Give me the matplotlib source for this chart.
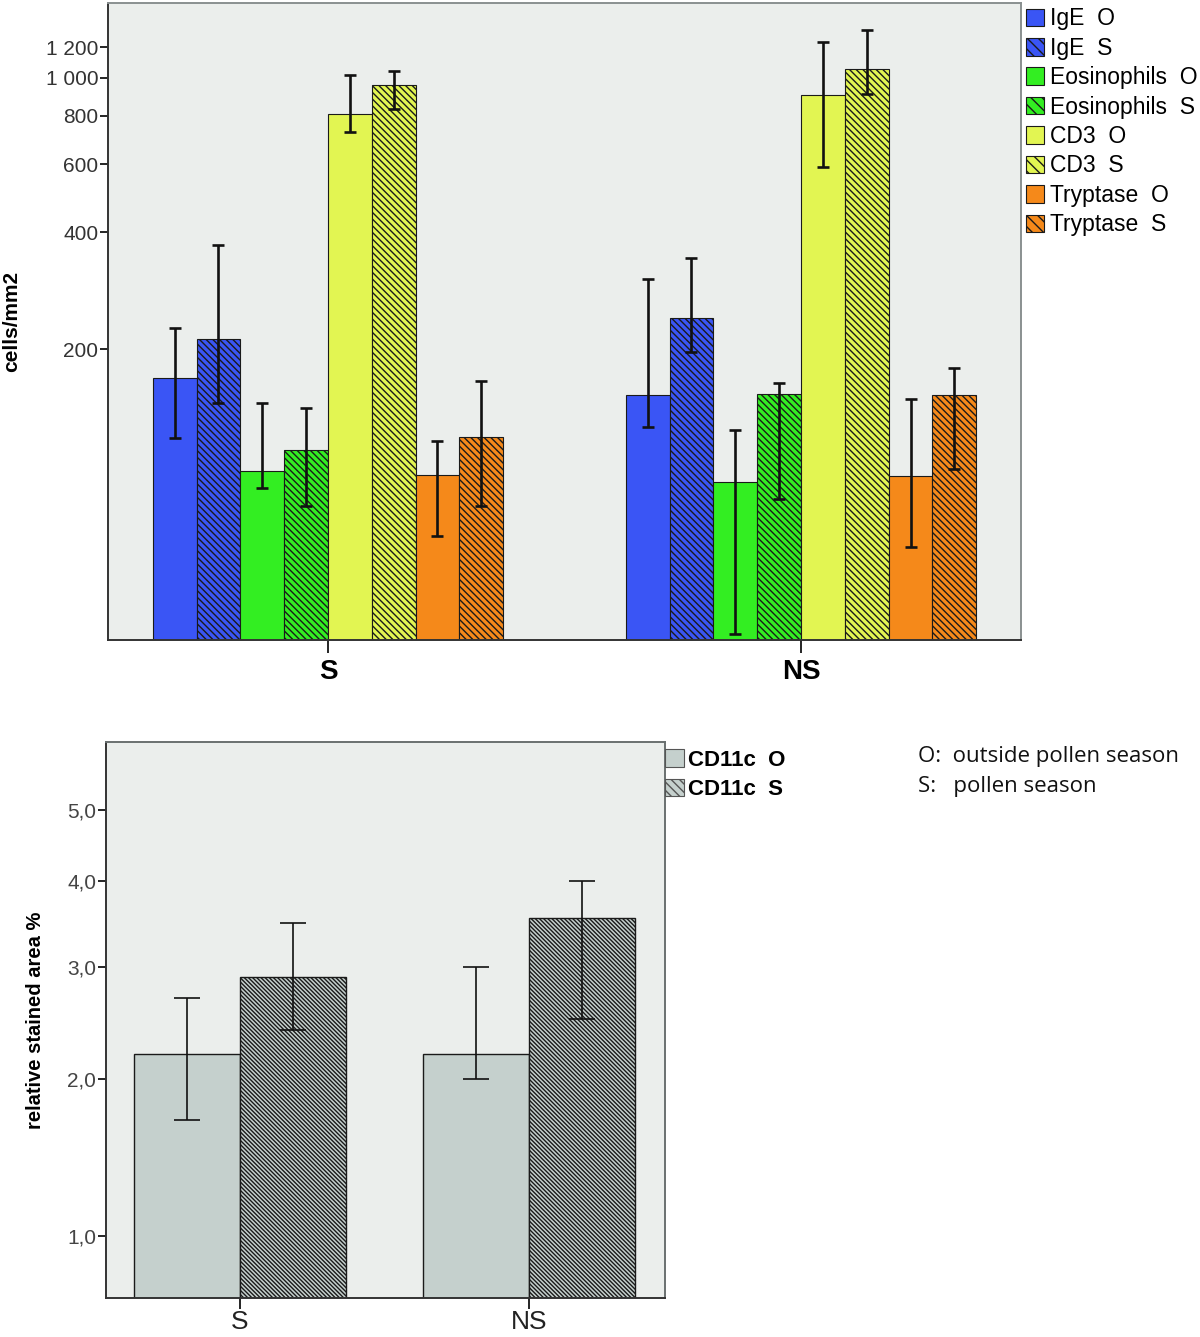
import numpy as np
import matplotlib
matplotlib.use("Agg")
import matplotlib.pyplot as plt
from matplotlib.patches import Patch

plt.rcParams['font.family'] = ['Liberation Sans', 'DejaVu Sans']

# top panel: cells/mm2, groups S and NS
groups = ["S", "NS"]
markers = ["IgE", "Eosinophils", "CD3", "Tryptase"]
seasons = ["O", "S"]
colors = ["#3a55f5", "#33ee22", "#e2f552", "#f5891a"]

# mean, lower and upper end of error bar; order IgE O, IgE S, Eos O, Eos S, CD3 O, CD3 S, Tryp O, Tryp S
mean_S = [168, 212, 96, 109, 808, 956, 94, 118]
low_S = [118, 145, 88, 79, 726, 831, 66, 79]
high_S = [227, 371, 145, 141, 1020, 1043, 116, 166]

mean_NS = [151, 240, 90, 152, 903, 1051, 93, 151]
low_NS = [126, 197, 37, 82, 588, 910, 62, 98]
high_NS = [303, 344, 124, 164, 1239, 1333, 149, 179]

yticks_top = [200, 400, 600, 800, 1000, 1200]
yticklabels_top = ["200", "400", "600", "800", "1 000", "1 200"]

# bottom panel: CD11c relative stained area %
cd11c_mean = {"O": [2.20, 2.20], "S": [2.90, 3.55]}
cd11c_low = {"O": [1.70, 2.00], "S": [2.40, 2.50]}
cd11c_high = {"O": [2.70, 3.00], "S": [3.49, 4.00]}
yticks_bot = [1, 2, 3, 4, 5]
yticklabels_bot = ["1,0", "2,0", "3,0", "4,0", "5,0"]

bg = "#ebeeec"
fig = plt.figure(figsize=(12, 13.37), dpi=100)

# ---------------- top chart
ax = fig.add_axes([0.09, 0.5213, 0.7608, 0.4765])
ax.set_facecolor(bg)
ax.set_yscale("log")

w = 0.0926
means = np.array([mean_S, mean_NS])
lows = np.array([low_S, low_NS])
highs = np.array([high_S, high_NS])
x = np.arange(len(groups))

handles = []
for i in range(8):
    m, s = i // 2, i % 2
    xs = x + (i - 3.5) * w
    hatch = "\\" * 5 if s == 1 else None
    b = ax.bar(xs, means[:, i], w, bottom=1, color=colors[m], edgecolor="#1a1a1a",
               linewidth=0.8, hatch=hatch, zorder=2)
    yerr = [means[:, i] - lows[:, i], highs[:, i] - means[:, i]]
    ax.errorbar(xs, means[:, i], yerr=yerr, fmt="none", ecolor="#111111",
                elinewidth=1.9, capsize=4.3, capthick=1.9, zorder=3)
    handles.append(Patch(facecolor=colors[m], edgecolor="#1a1a1a", linewidth=0.8,
                         hatch="\\" * 3 if s == 1 else None,
                         label=f"{markers[m]}  {seasons[s]}"))

ax.set_xlim(-0.465, 1.465)
ax.set_ylim(35.6, 1561)
ax.set_yticks(yticks_top)
ax.set_yticklabels(yticklabels_top)
ax.yaxis.set_minor_locator(matplotlib.ticker.NullLocator())
ax.set_xticks(x)
ax.set_xticklabels(groups, fontsize=20, fontweight="bold")
ax.tick_params(axis="y", length=6, width=1.2, pad=1, labelsize=15, labelcolor="#333333")
ax.tick_params(axis="x", length=9, width=1.2, pad=5)
ax.set_ylabel("cells/mm2", fontsize=15, fontweight="bold", labelpad=18)
for sp in ["left", "bottom"]:
    ax.spines[sp].set_color("#333333")
    ax.spines[sp].set_linewidth(1.4)
for sp in ["top", "right"]:
    ax.spines[sp].set_color("#8a9090")
    ax.spines[sp].set_linewidth(1.4)

fig.legend(handles=handles, loc="upper left", bbox_to_anchor=(0.855, 0.9945),
           frameon=False, fontsize=16.5, handlelength=0.8, handleheight=0.8,
           handletextpad=0.25, labelspacing=0.28, borderpad=0, borderaxespad=0)

# ---------------- bottom chart
ax2 = fig.add_axes([0.0883, 0.0292, 0.4658, 0.4158])
ax2.set_facecolor(bg)
ax2.set_yscale("function", functions=(lambda v: np.log10(np.maximum(v + 1, 1e-6)),
                                     lambda t: 10 ** t - 1))
w2 = 0.367
bar_grey = "#c5d0cd"
handles2 = []
for s, season in enumerate(seasons):
    xs = x + (s - 0.5) * w2
    hatch = "\\" * 8 if season == "S" else None
    m = np.array(cd11c_mean[season])
    lo = np.array(cd11c_low[season])
    hi = np.array(cd11c_high[season])
    ax2.bar(xs, m, w2, color=bar_grey, edgecolor="#1a1a1a", linewidth=1.0,
            hatch=hatch, zorder=2)
    ax2.errorbar(xs, m, yerr=[m - lo, hi - m], fmt="none", ecolor="#111111",
                 elinewidth=1.2, capsize=9.4, capthick=1.2, zorder=3)
    handles2.append(Patch(facecolor=bar_grey, edgecolor="#555555", linewidth=0.8,
                          hatch="\\" * 4 if season == "S" else None,
                          label=f"CD11c  {season}"))

ax2.set_xlim(-0.464, 1.47)
ax2.set_ylim(0.704, 6.157)
ax2.set_yticks(yticks_bot)
ax2.set_yticklabels(yticklabels_bot)
ax2.yaxis.set_minor_locator(matplotlib.ticker.NullLocator())
ax2.set_xticks(x)
ax2.set_xticklabels(groups, fontsize=19, color="#222222")
ax2.tick_params(axis="y", length=6, width=1.2, pad=1, labelsize=15, labelcolor="#444444")
ax2.tick_params(axis="x", length=8, width=1.2, pad=1)
ax2.set_ylabel("relative stained area %", fontsize=14.5, fontweight="bold", labelpad=16)
for sp in ["left", "bottom"]:
    ax2.spines[sp].set_color("#333333")
    ax2.spines[sp].set_linewidth(1.4)
for sp in ["top", "right"]:
    ax2.spines[sp].set_color("#6a7070")
    ax2.spines[sp].set_linewidth(1.4)

fig.legend(handles=handles2, loc="upper left", bbox_to_anchor=(0.5545, 0.4395),
           frameon=False, prop={"weight": "bold", "size": 16},
           handlelength=0.85, handleheight=0.85, handletextpad=0.15,
           labelspacing=0.35, borderpad=0, borderaxespad=0)

fig.text(0.765, 0.4345, "O:  outside pollen season", fontsize=16, family="Open Sans",
         va="center", ha="left", color="#111111")
fig.text(0.765, 0.4115, "S:   pollen season", fontsize=16, family="Open Sans",
         va="center", ha="left", color="#111111")

fig.savefig("out.png", dpi=100, facecolor="white")
